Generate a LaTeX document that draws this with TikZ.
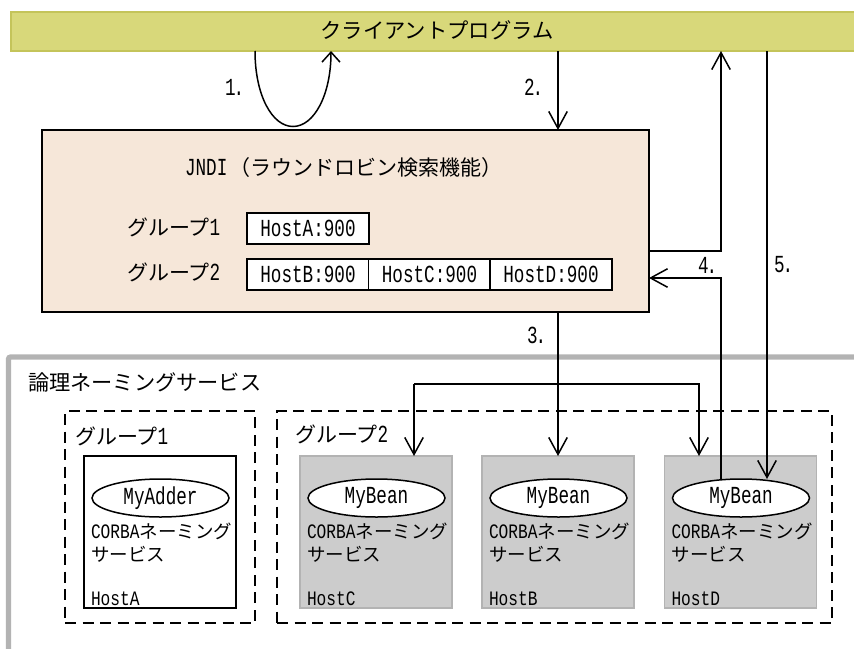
\documentclass[tikz,border=0pt]{standalone}
\usepackage{fontspec}
\setmainfont{Noto Sans CJK JP}
\newfontfamily\latf[FakeStretch=0.79]{Liberation Mono}
\newfontfamily\latg[FakeStretch=0.72]{Liberation Mono}
\newcommand{\jpsz}[1]{\fontsize{#1}{#1}\selectfont}
\newcommand{\lt}[1]{{\latf\fontsize{20.5}{20.5}\selectfont #1}}
\newcommand{\bg}[1]{{\latg\fontsize{24.5}{24.5}\selectfont #1}}
\usetikzlibrary{arrows.meta,shapes.geometric,calc}
\definecolor{clientfill}{HTML}{D8D87A}
\definecolor{clientline}{HTML}{C4C45A}
\definecolor{jndifill}{HTML}{F6E7D9}
\definecolor{hostgray}{HTML}{CCCCCC}
\definecolor{framegray}{HTML}{B3B3B3}
\tikzset{
  box/.style={rectangle,outer sep=0pt,inner sep=0pt,anchor=north west},
  txt/.style={inner sep=0pt,outer sep=0pt,anchor=west,font=\jpsz{21}},
  ctxt/.style={inner sep=0pt,outer sep=0pt,anchor=center,font=\jpsz{21.3}},
  num/.style={inner sep=0pt,outer sep=0pt,anchor=west},
  hostbox/.style={box,draw=framegray,line width=1.2pt,fill=hostgray,minimum width=152pt,minimum height=152pt},
  hostboxw/.style={box,draw=black,line width=1.5pt,fill=white,minimum width=152pt,minimum height=152pt},
  bean/.style={ellipse,draw=black,line width=1.5pt,fill=white,minimum width=137pt,minimum height=38pt,inner sep=0pt,outer sep=0pt},
  cell/.style={box,draw=black,line width=1.5pt,fill=white,minimum width=122pt,minimum height=31pt},
  group/.style={box,draw=black,line width=1.5pt,dash pattern=on 11pt off 6.5pt,minimum height=212pt},
  conn/.style={draw=black,line width=1.5pt},
  arr/.style={conn,-{Straight Barb[length=17pt,width=18.5pt,line width=1.5pt]}},
  arrshort/.style={conn,-{Straight Barb[length=10pt,width=18pt,line width=1.5pt]}},
}
\newcommand{\hostcontent}[3]{%
  \node[bean] (e#1) at ($(h#1.north west)+(76.5,42)$) {\bg{#2}};
  \node[txt] (c#1) at ($(h#1.north west)+(7,75)$) {\lt{CORBA}{\jpsz{18.5}ネーミング}};
  \node[txt] (s#1) at ($(h#1.north west)+(7,98)$) {\jpsz{18.5}サービス};
  \node[num] (n#1) at ($(h#1.north west)+(7,143)$) {\lt{#3}};
}
\newcommand{\stepnum}[1]{\bg{#1\kern-2pt.}}
\begin{document}
\begin{tikzpicture}[x=1pt,y=-1pt]
\useasboundingbox (0,0) rectangle (854,648);
% outer frame
\coordinate (fr0) at (8.5,660);
\coordinate (fr1) at (8.5,357);
\coordinate (fr2) at (870,357);
\draw[framegray,line width=5.2pt,rounded corners=2pt] (fr0) -- (fr1) -- (fr2);
\node[txt,font=\jpsz{21.2}] (logi) at (28,382) {論理ネーミングサービス};
% client
\node[box,draw=clientline,line width=1.3pt,fill=clientfill,minimum width=860pt,minimum height=39pt] (client) at (11,12) {};
\node[ctxt] (clienttxt) at (437,30) {クライアントプログラム};
% JNDI
\node[box,draw=black,line width=1.6pt,fill=jndifill,minimum width=607pt,minimum height=182pt] (jndi) at (42,130) {};
\node[txt] (jnditxt) at (185,168) {\bg{JNDI}\hspace{2pt}（ラウンドロビン検索機能）};
\node[txt] (g1) at (127,227) {グループ\bg{1}};
\node[txt] (g2) at (127,272) {グループ\bg{2}};
\node[cell] (ca) at (247,213) {\bg{HostA:900}};
\node[cell] (cb) at (247,259) {\bg{HostB:900}};
\node[cell] (cc) at (368.5,259) {\bg{HostC:900}};
\node[cell] (cd) at (490,259) {\bg{HostD:900}};
% groups
\node[group,minimum width=190pt] (grp1) at (65,411) {};
\node[group,minimum width=555pt] (grp2) at (277,411) {};
\node[txt] (gl1) at (75,436) {グループ\bg{1}};
\node[txt] (gl2) at (295,434) {グループ\bg{2}};
% hosts
\node[hostboxw] (hA) at (84,456) {};
\node[hostbox] (hC) at (300,456) {};
\node[hostbox] (hB) at (482,456) {};
\node[hostbox] (hD) at (664.5,456) {};
\hostcontent{A}{MyAdder}{HostA}
\hostcontent{C}{MyBean}{HostC}
\hostcontent{B}{MyBean}{HostB}
\hostcontent{D}{MyBean}{HostD}
% connector guide positions
\coordinate (xl) at (255,0);
\coordinate (xr) at (331,0);
\coordinate (x2) at (558,0);
\coordinate (x4) at (721,0);
\coordinate (x5) at (767,0);
\coordinate (xC) at (414,0);
\coordinate (xD) at (699,0);
\coordinate (yb) at (0,384);
\coordinate (yout) at (0,251);
\coordinate (yin) at (0,278);
% 1
\draw[arrshort] (xl |- client.south) .. controls (255,95) and (272,126.5) .. (293,126.5)
  .. controls (314,126.5) and (331,95) .. (xr |- client.south);
% 2
\draw[arr] (x2 |- client.south) -- (x2 |- jndi.north);
% 3
\draw[arr] (x2 |- jndi.south) -- (x2 |- hB.north);
\draw[arr] (xC |- yb) -- (xC |- hC.north);
\draw[arr] (xC |- yb) -- (xD |- yb) -- (xD |- hD.north);
% out of JNDI to client
\draw[arr] (jndi.east |- yout) -- (x4 |- yout) -- (x4 |- client.south);
% 4
\path (eD.north) coordinate (etop);
\draw[arr] (x4 |- etop) -- (x4 |- yin) -- (jndi.east |- yin);
% 5
\draw[arr] (x5 |- client.south) -- (x5 |- etop);
% labels
\node[num] (l1) at (225,87) {\stepnum{1}};
\node[num] (l2) at (524,87) {\stepnum{2}};
\node[num] (l3) at (527,335) {\stepnum{3}};
\node[num] (l4) at (698,265) {\stepnum{4}};
\node[num] (l5) at (774,265) {\stepnum{5}};
\end{tikzpicture}
\end{document}
